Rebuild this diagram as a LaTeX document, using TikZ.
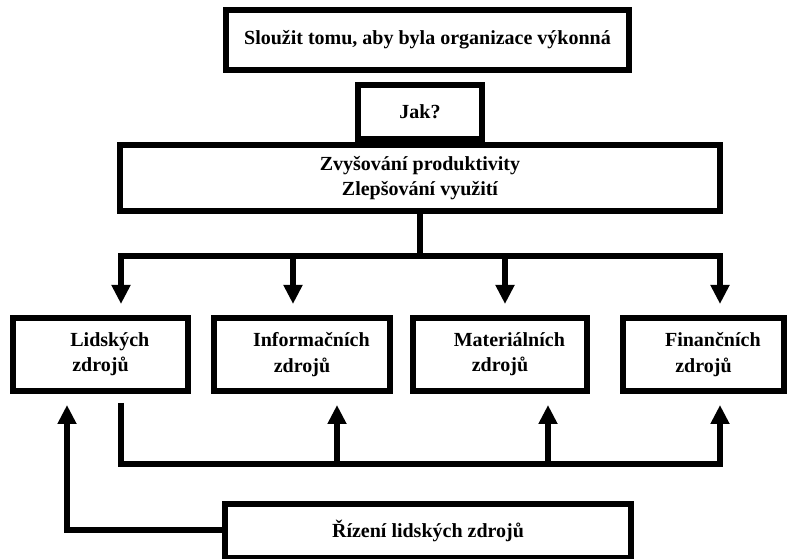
\documentclass[tikz,border=0pt]{standalone}
\usepackage{fontspec}
\setmainfont{Liberation Serif}
\usetikzlibrary{arrows.meta, positioning}
\tikzstyle{box} = [rectangle, draw=black, line width=4.5pt, inner sep=0pt, align=center, font=\fontsize{15}{19}\selectfont\bfseries]
\tikzstyle{link} = [line width=4.5pt]
\tikzstyle{arrow} = [line width=4.5pt, -{Triangle[width=13.5pt,length=14.25pt]}, shorten >=8.25pt]
\def\px{0.75pt}
\def\ind{\hspace*{14pt}}

\begin{document}
\begin{tikzpicture}[x=0.75pt, y=-0.75pt]
\useasboundingbox (0,0) rectangle (790,559);

\node (goal) [box, minimum width=403*\px, minimum height=60*\px] at (427.5,40) {Sloužit tomu, aby byla organizace výkonná};
\node (jak) [box, minimum width=124*\px, minimum height=54*\px] at (420,112) {Jak?};
\node (main) [box, minimum width=600*\px, minimum height=66*\px] at (420,178) {Zvyšování produktivity\\Zlepšování využití};

\node (lid) [box, minimum width=175*\px, minimum height=73*\px] at (100.5,354.5) {\ind Lidských\\zdrojů};
\node (inf) [box, minimum width=176*\px, minimum height=73*\px] at (302,354.5) {\ind Informačních\\zdrojů};
\node (mat) [box, minimum width=174*\px, minimum height=73*\px] at (500,354.5) {\ind Materiálních\\zdrojů};
\node (fin) [box, minimum width=161*\px, minimum height=73*\px] at (703.5,354.5) {\ind Finančních\\zdrojů};

\node (rizeni) [box, minimum width=406*\px, minimum height=54*\px] at (428,531) {Řízení lidských zdrojů};

% rozvod shora
\coordinate (split) at (420,256);
\coordinate (bus1) at (121,256);
\coordinate (bus2) at (293,256);
\coordinate (bus3) at (505,256);
\coordinate (bus4) at (720,256);
\draw [link] (main) -- (split);
\draw [arrow] (split) -| (lid.north -| bus1);
\draw [arrow] (split) -| (inf.north -| bus2);
\draw [arrow] (split) -| (mat.north -| bus3);
\draw [arrow] (split) -| (fin.north -| bus4);

% zpetna vazba
\coordinate (ret1) at (121,464);
\coordinate (ret2) at (337,464);
\coordinate (ret3) at (548,464);
\coordinate (ret4) at (720,464);
\draw [arrow, shorten <=6.75pt] (lid.south -| ret1) -- (ret1) -- (ret4) -- (fin.south -| ret4);
\draw [arrow] (ret2) -- (inf.south -| ret2);
\draw [arrow] (ret3) -- (mat.south -| ret3);

\coordinate (back) at (67,530);
\draw [arrow] (rizeni.west |- back) -- (back) -- (lid.south -| back);

\end{tikzpicture}
\end{document}
